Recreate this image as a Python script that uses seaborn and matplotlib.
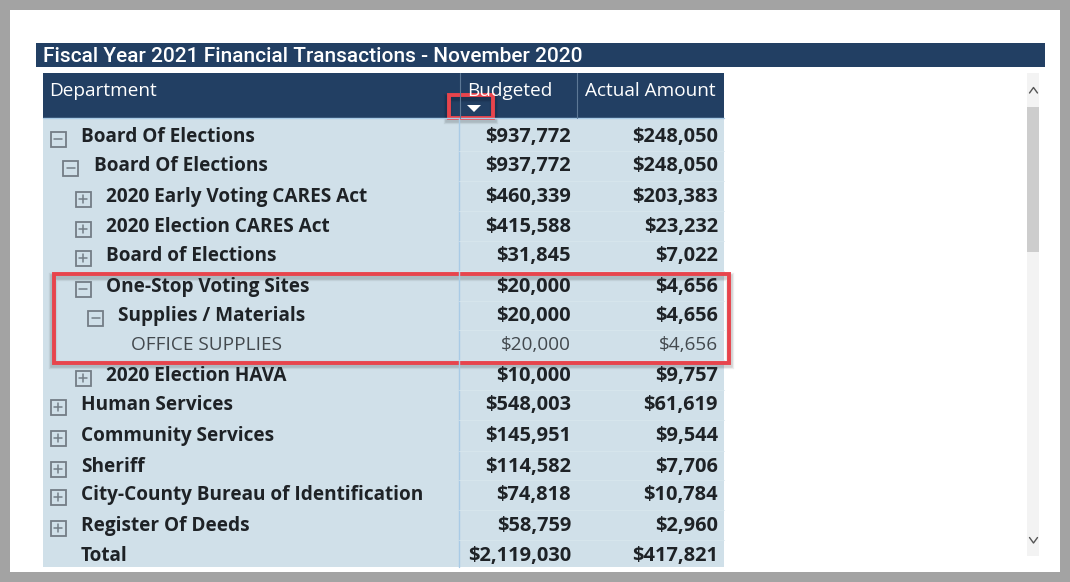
import matplotlib
matplotlib.use("Agg")
import matplotlib.pyplot as plt
from matplotlib.colors import ListedColormap
from matplotlib.patches import Rectangle
import numpy as np
import seaborn as sns

title = "Fiscal Year 2021 Financial Transactions - November 2020"
columns = ["Department", "Budgeted", "Actual Amount"]

departments = ["Board Of Elections", "Board Of Elections", "2020 Early Voting CARES Act",
               "2020 Election CARES Act", "Board of Elections", "One-Stop Voting Sites",
               "Supplies / Materials", "OFFICE SUPPLIES", "2020 Election HAVA",
               "Human Services", "Community Services", "Sheriff",
               "City-County Bureau of Identification", "Register Of Deeds", "Total"]
budgeted = [937772, 937772, 460339, 415588, 31845, 20000, 20000, 20000, 10000,
            548003, 145951, 114582, 74818, 58759, 2119030]
actual = [248050, 248050, 203383, 23232, 7022, 4656, 4656, 4656, 9757,
          61619, 9544, 7706, 10784, 2960, 417821]
levels = [0, 1, 2, 2, 2, 2, 3, 4, 2, 0, 0, 0, 0, 0, 0]
toggles = ["-", "-", "+", "+", "+", "-", "-", "", "+", "+", "+", "+", "+", "+", ""]

# pixel layout of the screenshot
row_y = [135, 164, 195, 225, 254, 285, 314, 343, 374, 403, 434, 465, 493, 524, 554]
NAVY = "#223f63"
BODY = "#d0e0e9"
RED = "#e8444c"
W, H = 1070, 582

sns.set_theme(style="white")
plt.rcParams["font.family"] = ["Open Sans", "DejaVu Sans"]

fig = plt.figure(figsize=(W / 100, H / 100), dpi=100, facecolor="#a3a3a3")

# table body as a flat seaborn heatmap
body_ax = fig.add_axes([43 / W, 1 - 567 / H, (724 - 43) / W, (567 - 118) / H])
sns.heatmap(np.column_stack([budgeted, actual]), cmap=ListedColormap([BODY]), cbar=False,
            xticklabels=False, yticklabels=False, ax=body_ax, zorder=2)

ax = fig.add_axes([0, 0, 1, 1], zorder=3)
ax.set_xlim(0, W)
ax.set_ylim(H, 0)
ax.axis("off")
ax.patch.set_alpha(0)

bg_ax = fig.add_axes([0, 0, 1, 1], zorder=-1)
bg_ax.set_xlim(0, W)
bg_ax.set_ylim(H, 0)
bg_ax.axis("off")
bg_ax.add_patch(Rectangle((10, 10), 1050, 562, color="white", lw=0))


def box(x0, y0, x1, y1, **kw):
    ax.add_patch(Rectangle((x0, y0), x1 - x0, y1 - y0, **kw))


# title band and header
box(36, 43, 1045, 67, color=NAVY, lw=0)
ax.text(43, 56.5, title, color="white", fontsize=15.05, family="Roboto", weight="medium",
        va="center", ha="left")
box(43, 73, 724, 118, color=NAVY, lw=0)
ax.plot([43, 724], [118, 118], color="#a9cbe6", lw=1)
ax.plot([460, 460], [73, 118], color="#5d7896", lw=0.8)
ax.plot([577, 577], [73, 118], color="#5d7896", lw=0.8)
ax.text(49, 91, columns[0], color="white", fontsize=13.7, va="center", ha="left")
ax.text(467, 91, columns[1], color="white", fontsize=13.7, va="center", ha="left")
ax.text(716, 91, columns[2], color="white", fontsize=13.7, va="center", ha="right")
ax.fill([467, 481, 474], [105, 105, 112], color="white", lw=0)

# column rule and faint row rules
ax.plot([459, 459], [118, 567], color="#a9cbe6", lw=1)
for top, bottom in zip(row_y[:-1], row_y[1:]):
    ax.plot([459, 724], [(top + bottom) / 2 + 1] * 2, color="#d8e6ed", lw=0.6)

# rows
for i, name in enumerate(departments):
    y = row_y[i]
    leaf = toggles[i] == "" and name != "Total"
    weight = "normal" if leaf else "bold"
    color = "#43494e" if leaf else "#1e2226"
    num_size = 13.7 if leaf else 14.4
    text_x = 81 + 12.5 * levels[i]
    ax.text(text_x, y + 2, name, color=color, fontsize=13.65, weight=weight, va="center", ha="left")
    ax.text(571, y + 2, f"${budgeted[i]:,}", color=color, fontsize=num_size, weight=weight,
            va="center", ha="right")
    ax.text(718, y + 2, f"${actual[i]:,}", color=color, fontsize=num_size, weight=weight,
            va="center", ha="right")
    if toggles[i]:
        cx = text_x - 23
        cy = y + 4
        box(cx - 7.5, cy - 7.5, cx + 7.5, cy + 7.5, fill=False, ec="#737d86", lw=1.3)
        ax.plot([cx - 4, cx + 4], [cy, cy], color="#737d86", lw=1.1)
        if toggles[i] == "+":
            ax.plot([cx, cx], [cy - 4, cy + 4], color="#737d86", lw=1.1)

# red callouts with soft shadow
for x0, y0, x1, y1 in [(449, 95, 493, 117.5), (53.5, 273.5, 728.5, 362.5)]:
    for grow, alpha in [(2, 0.07), (1, 0.11)]:
        box(x0 - 1, y0 + 3, x1 + 1, y1 + 2, fill=False, ec="black", lw=2 + 2 * grow, alpha=alpha)
    box(x0, y0, x1, y1, fill=False, ec=RED, lw=2.8)

# scrollbar
box(1027, 73, 1039, 556, color="#f3f3f3", lw=0)
box(1027, 107, 1039, 252, color="#cdcdcd", lw=0)
ax.plot([1029.5, 1033.5, 1037.5], [93, 87.5, 93], color="#555555", lw=1)
ax.plot([1029.5, 1033.5, 1037.5], [537.5, 543, 537.5], color="#555555", lw=1)

fig.savefig("out.png", dpi=100, facecolor=fig.get_facecolor())
